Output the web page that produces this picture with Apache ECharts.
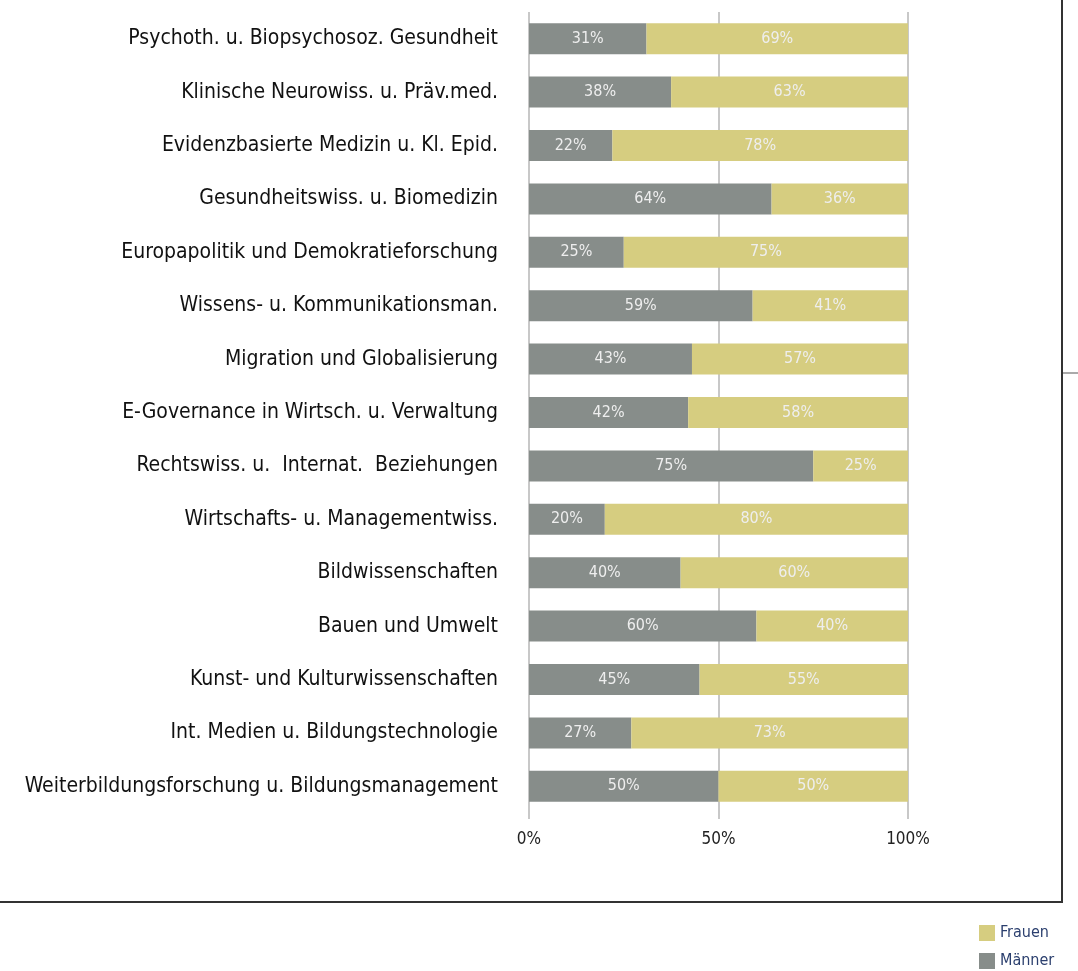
<!DOCTYPE html>
<html>
<head>
<meta charset="utf-8">
<script src="https://cdn.jsdelivr.net/npm/echarts@6/dist/echarts.min.js"></script>
<style>
  html, body { margin: 0; padding: 0; background: #fff; }
  #chart { width: 1078px; height: 971px; }
</style>
</head>
<body>
<div id="chart"></div>
<script>
var categories = [
    'Psychoth. u. Biopsychosoz. Gesundheit',
    'Klinische Neurowiss. u. Präv.med.',
    'Evidenzbasierte Medizin u. Kl. Epid.',
    'Gesundheitswiss. u. Biomedizin',
    'Europapolitik und Demokratieforschung',
    'Wissens- u. Kommunikationsman.',
    'Migration und Globalisierung',
    'E-Governance in Wirtsch. u. Verwaltung',
    'Rechtswiss. u.  Internat.  Beziehungen',
    'Wirtschafts- u. Managementwiss.',
    'Bildwissenschaften',
    'Bauen und Umwelt',
    'Kunst- und Kulturwissenschaften',
    'Int. Medien u. Bildungstechnologie',
    'Weiterbildungsforschung u. Bildungsmanagement'
];
var maenner = [31, 37.5, 22, 64, 25, 59, 43, 42, 75, 20, 40, 60, 45, 27, 50];
var frauen  = [69, 62.5, 78, 36, 75, 41, 57, 58, 25, 80, 60, 40, 55, 73, 50];
var seriesNames = ['Frauen', 'Männer'];

var FONT = '"DejaVu Sans Condensed", sans-serif';

var chart = echarts.init(document.getElementById('chart'));

function pctLabel(p) {
    return Math.round(p.value) + '%';
}

var barLabel = {
    show: true,
    position: 'inside',
    color: '#eeeeee',
    fontFamily: FONT,
    fontSize: 16,
    formatter: pctLabel
};

var option = {
    animation: false,
    grid: {
        left: 529,
        right: 170,
        top: 12,
        height: 801
    },
    legend: {
        orient: 'vertical',
        left: 979,
        top: 925,
        padding: 0,
        itemWidth: 16,
        itemHeight: 16,
        itemGap: 12,
        icon: 'rect',
        data: seriesNames,
        textStyle: { color: '#2b3f6e', fontFamily: FONT, fontSize: 16 }
    },
    xAxis: {
        type: 'value',
        min: 0,
        max: 100,
        interval: 50,
        axisLine: { show: false },
        axisTick: { show: true, length: 6, lineStyle: { color: '#c8c8c8', width: 2 } },
        axisLabel: {
            formatter: '{value}%',
            color: '#222',
            fontFamily: FONT,
            fontSize: 17,
            margin: 18
        },
        splitLine: { lineStyle: { color: '#c8c8c8', width: 2 } }
    },
    yAxis: {
        type: 'category',
        inverse: true,
        data: categories,
        axisLine: { show: false },
        axisTick: { show: false },
        axisLabel: {
            color: '#111',
            fontFamily: FONT,
            fontSize: 21,
            margin: 31
        }
    },
    series: [
        {
            name: 'Männer',
            type: 'bar',
            stack: 'total',
            barWidth: 31,
            itemStyle: { color: '#878d8a' },
            label: barLabel,
            data: maenner
        },
        {
            name: 'Frauen',
            type: 'bar',
            stack: 'total',
            barWidth: 31,
            itemStyle: { color: '#d6cd80' },
            label: barLabel,
            data: frauen
        }
    ],
    graphic: [
        { type: 'line', shape: { x1: 1062, y1: 0, x2: 1062, y2: 902 }, style: { stroke: '#333', lineWidth: 2 } },
        { type: 'line', shape: { x1: 0, y1: 902, x2: 1063, y2: 902 }, style: { stroke: '#333', lineWidth: 2 } },
        { type: 'line', shape: { x1: 1063, y1: 373, x2: 1078, y2: 373 }, style: { stroke: '#aaa', lineWidth: 2 } }
    ]
};

chart.setOption(option);
</script>
</body>
</html>
